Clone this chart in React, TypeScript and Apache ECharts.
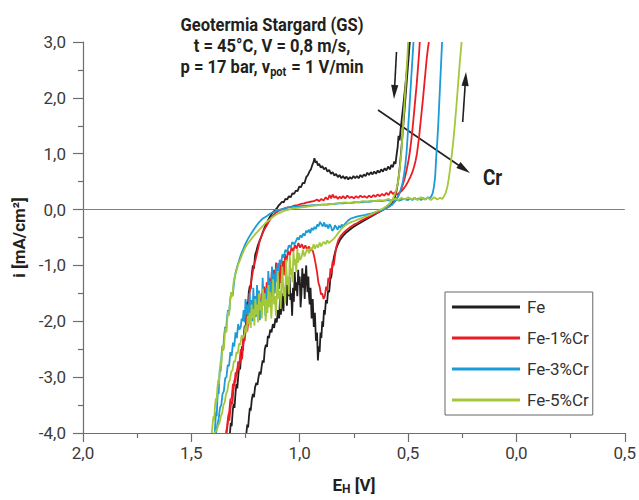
import React, { useEffect, useRef } from 'react';
import * as echarts from 'echarts';

type Pt = [number, number];

const seriesNames = ['Fe', 'Fe-1%Cr', 'Fe-3%Cr', 'Fe-5%Cr'];
const seriesColors = ['#231f20', '#ec1c24', '#1b9bd7', '#a4c83a'];

// Fe: forward branch (cathodic wall -> hump -> anodic rise)
const feUp: Pt[] = [
  [1.322,-4.0],[1.318,-3.82],[1.314,-3.88],[1.309,-3.6],[1.305,-3.48],[1.301,-3.55],[1.296,-3.28],[1.292,-3.12],[1.288,-3.2],[1.283,-2.95],[1.279,-2.8],[1.275,-2.86],[1.27,-2.6],[1.266,-2.45],[1.262,-2.52],[1.258,-2.25],[1.254,-2.08],[1.25,-2.14],[1.246,-1.85],[1.243,-1.65],[1.239,-1.72],[1.235,-1.48],[1.23,-1.36],[1.226,-1.42],[1.221,-1.15],[1.216,-1.0],[1.211,-1.06],[1.206,-0.82],[1.2,-0.74],[1.193,-0.64],[1.185,-0.56],[1.176,-0.47],[1.166,-0.36],[1.156,-0.27],[1.146,-0.19],[1.136,-0.12],[1.126,-0.06],[1.116,-0.02],[1.106,0.02],[1.098,0.07],[1.09,0.1],[1.082,0.14],[1.074,0.13],[1.066,0.19],[1.058,0.18],[1.05,0.24],[1.042,0.22],[1.034,0.29],[1.026,0.28],[1.018,0.34],[1.01,0.33],[1.002,0.41],[0.994,0.4],[0.986,0.48],[0.978,0.47],[0.97,0.58],[0.962,0.62],[0.955,0.68],[0.948,0.72],[0.942,0.8],[0.937,0.84],[0.932,0.92],[0.927,0.84],[0.922,0.87],[0.916,0.79],[0.91,0.82],[0.903,0.75],[0.896,0.78],[0.888,0.72],[0.88,0.75],[0.872,0.68],[0.864,0.71],[0.856,0.64],[0.848,0.67],[0.84,0.61],[0.832,0.64],[0.824,0.58],[0.816,0.62],[0.808,0.56],[0.8,0.6],[0.792,0.55],[0.784,0.59],[0.776,0.54],[0.768,0.58],[0.76,0.55],[0.752,0.6],[0.744,0.56],[0.736,0.6],[0.728,0.56],[0.72,0.62],[0.712,0.58],[0.704,0.63],[0.696,0.6],[0.688,0.66],[0.68,0.62],[0.672,0.67],[0.664,0.63],[0.656,0.68],[0.648,0.64],[0.64,0.7],[0.632,0.66],[0.624,0.72],[0.616,0.68],[0.608,0.74],[0.6,0.7],[0.592,0.77],[0.584,0.72],[0.577,0.8],[0.57,0.76],[0.564,0.86],[0.558,0.82],[0.553,0.98],[0.548,1.12],[0.544,1.32],[0.539,1.24],[0.534,1.45],[0.529,1.62],[0.524,1.8],[0.519,1.98],[0.514,2.17],[0.509,2.36],[0.504,2.56],[0.499,2.76],[0.494,3.0]
];
// Fe: return branch (anodic line -> cathodic dip -> wall)
const feDown: Pt[] = [
  [0.492,3.0],[0.496,2.8],[0.501,2.55],[0.506,2.3],[0.511,2.05],[0.516,1.8],[0.521,1.56],[0.526,1.32],[0.531,1.08],[0.536,0.86],[0.541,0.66],[0.547,0.48],[0.554,0.32],[0.562,0.2],[0.572,0.12],[0.584,0.07],[0.598,0.04],[0.614,0.0],[0.632,-0.04],[0.65,-0.08],[0.668,-0.12],[0.686,-0.16],[0.704,-0.2],[0.722,-0.24],[0.74,-0.28],[0.756,-0.32],[0.772,-0.37],[0.788,-0.42],[0.802,-0.48],[0.815,-0.55],[0.826,-0.64],[0.835,-0.74],[0.842,-0.85],[0.848,-0.98],[0.854,-1.2],[0.859,-1.25],[0.864,-1.48],[0.869,-1.45],[0.874,-1.68],[0.879,-1.62],[0.884,-1.88],[0.888,-1.8],[0.892,-2.1],[0.896,-2.0],[0.9,-2.3],[0.904,-2.2],[0.908,-2.55],[0.912,-2.45],[0.916,-2.7],[0.92,-2.2],[0.925,-2.35],[0.93,-1.85],[0.935,-2.1],[0.94,-1.6],[0.945,-1.95],[0.95,-1.4],[0.954,-1.7],[0.957,-1.55],[0.96,-1.2],[0.964,-1.48],[0.967,-1.3],[0.97,-1.0],[0.974,-1.25],[0.977,-1.6],[0.981,-1.15],[0.985,-1.4],[0.988,-1.05],[0.992,-1.5],[0.996,-1.75],[1.0,-1.2],[1.004,-1.35],[1.007,-1.08],[1.011,-1.55],[1.015,-1.3],[1.019,-1.45],[1.023,-1.12],[1.027,-1.65],[1.031,-1.4],[1.035,-1.9],[1.039,-1.5],[1.043,-1.62],[1.047,-1.2],[1.051,-1.55],[1.055,-1.35],[1.059,-1.72],[1.063,-1.25],[1.067,-1.58],[1.071,-1.4],[1.075,-1.82],[1.079,-1.5],[1.083,-1.7],[1.087,-1.88],[1.091,-1.6],[1.095,-1.95],[1.1,-1.8],[1.106,-2.02],[1.112,-1.95],[1.118,-2.12],[1.124,-2.05],[1.13,-2.2],[1.136,-2.15],[1.142,-2.3],[1.147,-2.26],[1.151,-2.46],[1.156,-2.42],[1.161,-2.5],[1.166,-2.74],[1.171,-2.7],[1.176,-2.82],[1.18,-2.95],[1.185,-2.9],[1.19,-3.0],[1.195,-3.14],[1.2,-3.1],[1.206,-3.18],[1.211,-3.36],[1.216,-3.3],[1.221,-3.4],[1.226,-3.6],[1.23,-3.55],[1.234,-3.7],[1.238,-3.9],[1.242,-3.85],[1.246,-4.0]
];

const cr1Up: Pt[] = [
  [1.337,-4.0],[1.333,-3.86],[1.329,-3.72],[1.325,-3.78],[1.32,-3.58],[1.315,-3.42],[1.311,-3.48],[1.306,-3.25],[1.301,-3.05],[1.297,-3.1],[1.292,-2.92],[1.287,-2.85],[1.282,-2.88],[1.277,-2.74],[1.271,-2.64],[1.266,-2.68],[1.262,-2.48],[1.257,-2.3],[1.253,-2.2],[1.249,-2.08],[1.245,-2.0],[1.241,-1.84],[1.237,-1.7],[1.233,-1.56],[1.229,-1.44],[1.225,-1.3],[1.22,-1.2],[1.215,-1.08],[1.21,-0.98],[1.204,-0.9],[1.198,-0.8],[1.191,-0.68],[1.184,-0.55],[1.174,-0.45],[1.164,-0.36],[1.153,-0.29],[1.14,-0.2],[1.128,-0.13],[1.115,-0.07],[1.1,-0.03],[1.085,0.0],[1.07,0.02],[1.055,0.04],[1.04,0.05],[1.025,0.07],[1.01,0.08],[0.995,0.1],[0.98,0.11],[0.965,0.13],[0.95,0.14],[0.935,0.15],[0.92,0.18],[0.91,0.15],[0.9,0.19],[0.89,0.16],[0.88,0.22],[0.87,0.18],[0.862,0.26],[0.855,0.2],[0.848,0.27],[0.84,0.21],[0.832,0.24],[0.824,0.19],[0.816,0.23],[0.808,0.2],[0.8,0.24],[0.79,0.2],[0.78,0.25],[0.77,0.21],[0.76,0.23],[0.75,0.2],[0.74,0.24],[0.73,0.21],[0.72,0.25],[0.71,0.22],[0.7,0.24],[0.69,0.21],[0.68,0.25],[0.67,0.22],[0.66,0.26],[0.65,0.23],[0.64,0.27],[0.63,0.24],[0.62,0.28],[0.61,0.25],[0.6,0.3],[0.59,0.26],[0.58,0.33],[0.57,0.28],[0.56,0.31],[0.55,0.27],[0.54,0.3],[0.53,0.33],[0.52,0.38],[0.51,0.43],[0.5,0.5],[0.49,0.58],[0.48,0.67],[0.472,0.77],[0.465,0.88],[0.459,1.0],[0.454,1.15],[0.449,1.3],[0.444,1.5],[0.438,1.72],[0.432,1.95],[0.426,2.2],[0.42,2.45],[0.414,2.7],[0.408,2.9],[0.404,3.0]
];
const cr1Down: Pt[] = [
  [0.446,3.0],[0.45,2.75],[0.455,2.5],[0.46,2.25],[0.466,2.0],[0.472,1.75],[0.478,1.5],[0.484,1.28],[0.49,1.08],[0.497,0.9],[0.505,0.74],[0.514,0.58],[0.524,0.45],[0.535,0.33],[0.547,0.23],[0.56,0.15],[0.574,0.09],[0.59,0.05],[0.606,0.01],[0.622,-0.02],[0.638,-0.05],[0.654,-0.08],[0.67,-0.11],[0.686,-0.14],[0.702,-0.17],[0.718,-0.2],[0.734,-0.24],[0.75,-0.27],[0.766,-0.31],[0.782,-0.36],[0.796,-0.41],[0.81,-0.47],[0.822,-0.55],[0.832,-0.68],[0.838,-0.85],[0.843,-1.0],[0.848,-0.92],[0.853,-1.15],[0.858,-1.05],[0.863,-1.3],[0.868,-1.22],[0.873,-1.45],[0.878,-1.38],[0.884,-1.55],[0.89,-1.6],[0.896,-1.5],[0.902,-1.52],[0.908,-1.38],[0.914,-1.3],[0.92,-1.12],[0.926,-0.98],[0.932,-0.86],[0.938,-0.76],[0.944,-0.7],[0.95,-0.74],[0.958,-0.66],[0.966,-0.72],[0.974,-0.64],[0.982,-0.7],[0.99,-0.62],[0.998,-0.68],[1.006,-0.6],[1.014,-0.7],[1.022,-0.63],[1.03,-0.75],[1.038,-0.68],[1.046,-0.82],[1.054,-0.74],[1.062,-0.95],[1.068,-0.8],[1.073,-1.18],[1.077,-0.92],[1.082,-1.05],[1.086,-1.32],[1.09,-0.98],[1.095,-1.42],[1.1,-1.1],[1.104,-1.22],[1.109,-0.95],[1.114,-1.3],[1.119,-1.08],[1.124,-1.4],[1.129,-1.12],[1.134,-1.5],[1.14,-1.22],[1.146,-1.55],[1.152,-1.3],[1.158,-1.66],[1.164,-1.38],[1.17,-1.72],[1.176,-1.5],[1.182,-1.8],[1.188,-1.55],[1.194,-1.88],[1.2,-1.62],[1.206,-1.92],[1.212,-1.7],[1.218,-1.98],[1.224,-1.82],[1.23,-2.05],[1.236,-1.95],[1.242,-2.18],[1.248,-2.1],[1.254,-2.35],[1.26,-2.3],[1.266,-2.55],[1.272,-2.5],[1.278,-2.75],[1.284,-2.72],[1.29,-2.95],[1.296,-2.92],[1.302,-3.15],[1.308,-3.12],[1.314,-3.38],[1.32,-3.4],[1.325,-3.62],[1.33,-3.7],[1.335,-3.88],[1.34,-4.0]
];

const cr3Up: Pt[] = [
  [1.392,-4.0],[1.389,-3.8],[1.386,-3.62],[1.383,-3.7],[1.38,-3.42],[1.377,-3.22],[1.374,-3.3],[1.371,-3.02],[1.368,-2.82],[1.365,-2.9],[1.361,-2.62],[1.357,-2.44],[1.353,-2.52],[1.349,-2.27],[1.344,-2.1],[1.34,-2.17],[1.335,-1.92],[1.331,-1.8],[1.326,-1.86],[1.321,-1.62],[1.315,-1.48],[1.309,-1.54],[1.303,-1.3],[1.297,-1.15],[1.29,-1.04],[1.282,-0.94],[1.272,-0.82],[1.262,-0.72],[1.25,-0.61],[1.238,-0.52],[1.226,-0.44],[1.214,-0.37],[1.2,-0.29],[1.186,-0.22],[1.17,-0.16],[1.153,-0.12],[1.135,-0.07],[1.118,-0.04],[1.1,-0.01],[1.08,0.01],[1.06,0.03],[1.04,0.05],[1.02,0.05],[1.0,0.06],[0.98,0.07],[0.96,0.07],[0.94,0.08],[0.92,0.08],[0.9,0.09],[0.88,0.09],[0.86,0.1],[0.84,0.1],[0.82,0.11],[0.8,0.11],[0.78,0.12],[0.76,0.12],[0.74,0.13],[0.72,0.13],[0.7,0.14],[0.68,0.14],[0.66,0.15],[0.64,0.16],[0.62,0.15],[0.6,0.17],[0.58,0.16],[0.56,0.18],[0.54,0.16],[0.52,0.19],[0.5,0.17],[0.49,0.2],[0.48,0.17],[0.47,0.21],[0.46,0.18],[0.45,0.2],[0.44,0.17],[0.43,0.21],[0.42,0.18],[0.41,0.22],[0.4,0.2],[0.392,0.24],[0.386,0.3],[0.381,0.4],[0.377,0.52],[0.374,0.65],[0.372,0.8],[0.37,0.95],[0.367,1.1],[0.364,1.3],[0.361,1.5],[0.358,1.75],[0.355,2.0],[0.352,2.25],[0.349,2.5],[0.346,2.75],[0.343,3.0]
];
const cr3Down: Pt[] = [
  [0.475,3.0],[0.479,2.75],[0.483,2.5],[0.487,2.25],[0.491,2.0],[0.495,1.75],[0.499,1.5],[0.503,1.25],[0.507,1.02],[0.512,0.82],[0.518,0.64],[0.525,0.48],[0.534,0.35],[0.545,0.24],[0.558,0.16],[0.572,0.1],[0.588,0.05],[0.604,0.02],[0.62,-0.01],[0.636,-0.03],[0.652,-0.05],[0.668,-0.07],[0.684,-0.08],[0.7,-0.1],[0.716,-0.11],[0.732,-0.12],[0.748,-0.14],[0.764,-0.16],[0.778,-0.2],[0.79,-0.25],[0.8,-0.3],[0.806,-0.27],[0.812,-0.33],[0.819,-0.29],[0.825,-0.36],[0.831,-0.32],[0.837,-0.28],[0.843,-0.35],[0.85,-0.38],[0.856,-0.3],[0.862,-0.26],[0.868,-0.34],[0.875,-0.27],[0.881,-0.31],[0.887,-0.23],[0.894,-0.3],[0.9,-0.26],[0.906,-0.22],[0.913,-0.3],[0.919,-0.27],[0.926,-0.35],[0.932,-0.31],[0.938,-0.37],[0.945,-0.33],[0.951,-0.42],[0.958,-0.36],[0.964,-0.41],[0.97,-0.38],[0.977,-0.47],[0.984,-0.43],[0.99,-0.5],[0.997,-0.46],[1.004,-0.54],[1.01,-0.5],[1.018,-0.57],[1.026,-0.62],[1.034,-0.58],[1.042,-0.68],[1.05,-0.64],[1.058,-0.76],[1.066,-0.72],[1.074,-0.86],[1.08,-0.8],[1.086,-0.98],[1.092,-0.9],[1.098,-1.12],[1.102,-0.96],[1.106,-1.3],[1.11,-1.05],[1.115,-1.5],[1.119,-1.15],[1.123,-1.32],[1.128,-1.02],[1.132,-1.62],[1.136,-1.28],[1.14,-1.45],[1.145,-1.1],[1.149,-1.75],[1.153,-1.4],[1.158,-1.9],[1.162,-1.5],[1.166,-1.65],[1.171,-1.22],[1.175,-1.85],[1.179,-1.6],[1.184,-1.98],[1.188,-1.45],[1.192,-1.7],[1.197,-1.35],[1.201,-1.92],[1.205,-1.55],[1.21,-1.8],[1.214,-1.4],[1.218,-2.0],[1.223,-1.62],[1.227,-1.85],[1.231,-1.5],[1.236,-1.95],[1.24,-1.7],[1.245,-1.88],[1.25,-1.6],[1.254,-2.02],[1.259,-1.8],[1.263,-2.0],[1.268,-1.95],[1.272,-2.1],[1.278,-2.15],[1.284,-2.05],[1.29,-2.3],[1.296,-2.2],[1.302,-2.45],[1.308,-2.38],[1.314,-2.62],[1.32,-2.55],[1.326,-2.8],[1.332,-2.78],[1.338,-3.0],[1.344,-3.02],[1.35,-3.25],[1.356,-3.3],[1.362,-3.5],[1.368,-3.55],[1.374,-3.75],[1.38,-3.85],[1.386,-4.0]
];

const cr5Up: Pt[] = [
  [1.406,-4.0],[1.402,-3.85],[1.398,-3.7],[1.395,-3.78],[1.391,-3.52],[1.387,-3.38],[1.384,-3.45],[1.38,-3.2],[1.376,-3.05],[1.373,-3.12],[1.369,-2.88],[1.365,-2.72],[1.362,-2.8],[1.358,-2.56],[1.354,-2.42],[1.35,-2.5],[1.346,-2.26],[1.342,-2.12],[1.338,-2.2],[1.334,-1.96],[1.33,-1.82],[1.326,-1.9],[1.321,-1.62],[1.316,-1.48],[1.311,-1.56],[1.305,-1.3],[1.299,-1.18],[1.292,-1.1],[1.284,-0.98],[1.275,-0.9],[1.265,-0.8],[1.254,-0.7],[1.242,-0.62],[1.23,-0.56],[1.218,-0.5],[1.205,-0.44],[1.195,-0.4],[1.184,-0.35],[1.172,-0.3],[1.16,-0.25],[1.148,-0.21],[1.136,-0.17],[1.12,-0.12],[1.104,-0.08],[1.088,-0.05],[1.07,-0.02],[1.05,0.0],[1.03,0.02],[1.01,0.03],[0.99,0.04],[0.97,0.05],[0.95,0.06],[0.93,0.07],[0.91,0.08],[0.89,0.09],[0.87,0.09],[0.85,0.1],[0.83,0.11],[0.81,0.12],[0.79,0.13],[0.77,0.12],[0.75,0.14],[0.73,0.13],[0.71,0.15],[0.69,0.14],[0.67,0.16],[0.65,0.15],[0.63,0.17],[0.61,0.16],[0.59,0.19],[0.575,0.16],[0.56,0.2],[0.545,0.17],[0.53,0.21],[0.515,0.18],[0.5,0.22],[0.485,0.18],[0.47,0.21],[0.455,0.17],[0.44,0.22],[0.425,0.18],[0.41,0.21],[0.395,0.17],[0.38,0.22],[0.365,0.18],[0.352,0.21],[0.342,0.19],[0.334,0.24],[0.326,0.3],[0.318,0.42],[0.312,0.56],[0.307,0.7],[0.302,0.86],[0.297,1.02],[0.292,1.2],[0.287,1.4],[0.282,1.62],[0.277,1.85],[0.272,2.1],[0.267,2.35],[0.262,2.6],[0.257,2.82],[0.253,3.0]
];
const cr5Down: Pt[] = [
  [0.5,3.0],[0.503,2.75],[0.507,2.5],[0.511,2.25],[0.515,2.0],[0.519,1.75],[0.523,1.5],[0.527,1.25],[0.531,1.02],[0.536,0.82],[0.541,0.64],[0.547,0.48],[0.554,0.36],[0.562,0.26],[0.572,0.18],[0.585,0.11],[0.6,0.06],[0.616,0.02],[0.632,-0.01],[0.648,-0.04],[0.664,-0.07],[0.68,-0.1],[0.696,-0.12],[0.712,-0.15],[0.728,-0.17],[0.744,-0.2],[0.76,-0.22],[0.776,-0.25],[0.792,-0.29],[0.806,-0.34],[0.818,-0.4],[0.83,-0.46],[0.842,-0.52],[0.854,-0.56],[0.866,-0.6],[0.873,-0.55],[0.88,-0.62],[0.887,-0.58],[0.894,-0.6],[0.901,-0.66],[0.908,-0.59],[0.915,-0.68],[0.922,-0.63],[0.929,-0.7],[0.936,-0.62],[0.943,-0.73],[0.95,-0.68],[0.957,-0.78],[0.964,-0.7],[0.971,-0.76],[0.978,-0.84],[0.985,-0.72],[0.992,-0.86],[0.998,-0.9],[1.003,-0.78],[1.007,-0.95],[1.011,-0.7],[1.016,-1.12],[1.02,-0.88],[1.024,-1.0],[1.029,-0.74],[1.033,-1.3],[1.037,-1.05],[1.041,-1.18],[1.046,-0.82],[1.05,-1.52],[1.054,-1.2],[1.058,-1.35],[1.063,-0.9],[1.067,-1.68],[1.071,-1.4],[1.075,-1.55],[1.08,-1.02],[1.084,-1.3],[1.088,-1.78],[1.092,-1.45],[1.097,-1.6],[1.101,-1.1],[1.105,-1.5],[1.11,-1.9],[1.114,-1.55],[1.118,-1.7],[1.123,-1.25],[1.127,-1.62],[1.131,-1.95],[1.136,-1.48],[1.14,-1.75],[1.144,-1.35],[1.149,-1.85],[1.153,-1.6],[1.157,-2.0],[1.162,-1.5],[1.166,-1.72],[1.17,-1.42],[1.175,-1.95],[1.179,-1.65],[1.183,-1.8],[1.188,-1.5],[1.192,-2.02],[1.196,-1.7],[1.2,-1.88],[1.205,-1.6],[1.209,-2.08],[1.213,-1.78],[1.218,-1.95],[1.222,-1.7],[1.226,-2.12],[1.231,-1.85],[1.235,-2.05],[1.24,-1.9],[1.245,-2.2],[1.25,-2.08],[1.256,-2.25],[1.262,-2.3],[1.268,-2.25],[1.274,-2.42],[1.28,-2.4],[1.286,-2.58],[1.292,-2.55],[1.298,-2.72],[1.304,-2.72],[1.31,-2.88],[1.316,-2.9],[1.322,-3.05],[1.328,-3.1],[1.334,-3.25],[1.34,-3.3],[1.346,-3.45],[1.352,-3.5],[1.358,-3.65],[1.364,-3.7],[1.37,-3.82],[1.376,-3.86],[1.382,-3.94],[1.388,-3.97],[1.394,-4.0]
];

const branches: Pt[][][] = [[feUp, feDown], [cr1Up, cr1Down], [cr3Up, cr3Down], [cr5Up, cr5Down]];

const xMin = -0.5, xMax = 2.0, xStep = 0.5;
const yMin = -4, yMax = 3, yStep = 1;

const titleLines = ['Geotermia Stargard (GS)', 't = 45°C, V = 0,8 m/s,'];
const FONT = 'Roboto, "Liberation Sans", sans-serif';
const INK = '#231f20';
const AXIS = '#6d6e71';

function arrow(x1: number, y1: number, x2: number, y2: number) {
  const dx = x2 - x1, dy = y2 - y1;
  const len = Math.sqrt(dx * dx + dy * dy);
  const ux = dx / len, uy = dy / len;
  const hl = 14, hw = 3.6;
  const bx = x2 - ux * hl, by = y2 - uy * hl;
  return [
    { type: 'line', shape: { x1, y1, x2: bx + ux * 2, y2: by + uy * 2 }, style: { stroke: INK, lineWidth: 1.6 }, silent: true },
    { type: 'polygon', shape: { points: [[x2, y2], [bx - uy * hw, by + ux * hw], [bx + uy * hw, by - ux * hw]] }, style: { fill: INK }, silent: true },
  ];
}

const boldText = (text: string, x: number, y: number, size: number, sx: number, align = 'center') => ({
  type: 'text', x, y, scaleX: sx, silent: true,
  style: { text, align, verticalAlign: 'middle', textAlign: align, textVerticalAlign: 'middle', fontSize: size, fontWeight: 'bold', fontFamily: FONT, fill: INK },
});

export default function App() {
  const ref = useRef<HTMLDivElement>(null);
  useEffect(() => {
    const chart = echarts.init(ref.current!, null, { renderer: 'svg' });
    const series: any[] = [
      {
        type: 'line', name: '_zero', data: [], silent: true, z: 1,
        markLine: { silent: true, symbol: 'none', label: { show: false }, lineStyle: { color: '#7d7e80', width: 1.2, type: 'solid' }, data: [{ yAxis: 0 }] },
      },
    ];
    branches.forEach((pair, i) => {
      pair.forEach((pts) => {
        series.push({
          type: 'line', name: seriesNames[i], data: pts, symbol: 'none', showSymbol: false,
          lineStyle: { color: seriesColors[i], width: 1.8 }, itemStyle: { color: seriesColors[i] },
          z: 2 + i, silent: true, clip: true,
        });
      });
    });
    const option: any = {
      animation: false,
      grid: { left: 83, top: 42, width: 542, height: 401, containLabel: false },
      legend: {
        data: seriesNames, orient: 'vertical', left: 445, top: 292,
        padding: [6, 4, 6, 7], itemGap: 13, itemWidth: 68, itemHeight: 3, icon: 'rect',
        borderColor: '#666', borderWidth: 1, selectedMode: false,
        textStyle: { fontSize: 17, lineHeight: 18, color: '#333', fontFamily: FONT, padding: [0, 0, 0, 2] },
      },
      xAxis: {
        type: 'value', min: xMin, max: xMax, interval: xStep, inverse: true,
        axisLine: { show: true, onZero: false, lineStyle: { color: AXIS, width: 1.2 } },
        axisTick: { show: true, length: 9, lineStyle: { color: AXIS, width: 1.2 } },
        minorTick: { show: true, splitNumber: 2, length: 5, lineStyle: { color: AXIS, width: 1.2 } },
        splitLine: { show: false },
        axisLabel: {
          showMinLabel: true, showMaxLabel: true, fontSize: 17, color: '#3b3b3b', fontFamily: FONT, margin: 11,
          formatter: (v: number) => Math.abs(v).toFixed(1).replace('.', ','),
        },
        name: '{a|E}{s|H}{a| [V]}', nameLocation: 'middle', nameGap: 41,
        nameTextStyle: {
          rich: {
            a: { fontSize: 17, fontWeight: 'bold', fontFamily: FONT, color: INK },
            s: { fontSize: 12, fontWeight: 'bold', fontFamily: FONT, color: INK, padding: [9, 0, 0, 0] },
          },
        },
      },
      yAxis: {
        type: 'value', min: yMin, max: yMax, interval: yStep,
        axisLine: { show: true, onZero: false, lineStyle: { color: AXIS, width: 1.2 } },
        axisTick: { show: true, length: 10, lineStyle: { color: AXIS, width: 1.2 } },
        minorTick: { show: true, splitNumber: 2, length: 5, lineStyle: { color: AXIS, width: 1.2 } },
        splitLine: { show: false },
        axisLabel: {
          showMinLabel: true, showMaxLabel: true, fontSize: 17, color: '#3b3b3b', fontFamily: FONT, margin: 17,
          formatter: (v: number) => v.toFixed(1).replace('.', ','),
        },
        name: 'i [mA/cm²]', nameLocation: 'middle', nameGap: 56, nameRotate: 90,
        nameTextStyle: { fontSize: 17, fontWeight: 'bold', fontFamily: FONT, color: INK },
      },
      graphic: [
        boldText(titleLines[0], 272, 25, 18, 0.92),
        boldText(titleLines[1], 272, 46, 18, 0.92),
        {
          type: 'text', x: 272, y: 67, scaleX: 0.92, silent: true,
          style: {
            text: '{b|p = 17 bar, v}{s|pot}{b| = 1 V/min}', align: 'center', verticalAlign: 'middle', textAlign: 'center', textVerticalAlign: 'middle',
            rich: {
              b: { fontSize: 18, fontWeight: 'bold', fontFamily: FONT, fill: INK, color: INK },
              s: { fontSize: 12, fontWeight: 'bold', fontFamily: FONT, fill: INK, color: INK, padding: [9, 1, 0, 0] },
            },
          },
        },
        boldText('Cr', 483, 177, 22, 0.86, 'left'),
        ...arrow(396.5, 52, 394, 99),
        ...arrow(462.7, 122, 466, 72),
        ...arrow(378, 110, 470, 173),
      ],
      series,
    };
    chart.setOption(option);
    return () => chart.dispose();
  }, []);
  return <div ref={ref} style={{ position: 'fixed', left: 0, top: 0, width: 639, height: 500, background: '#fff' }} />;
}
